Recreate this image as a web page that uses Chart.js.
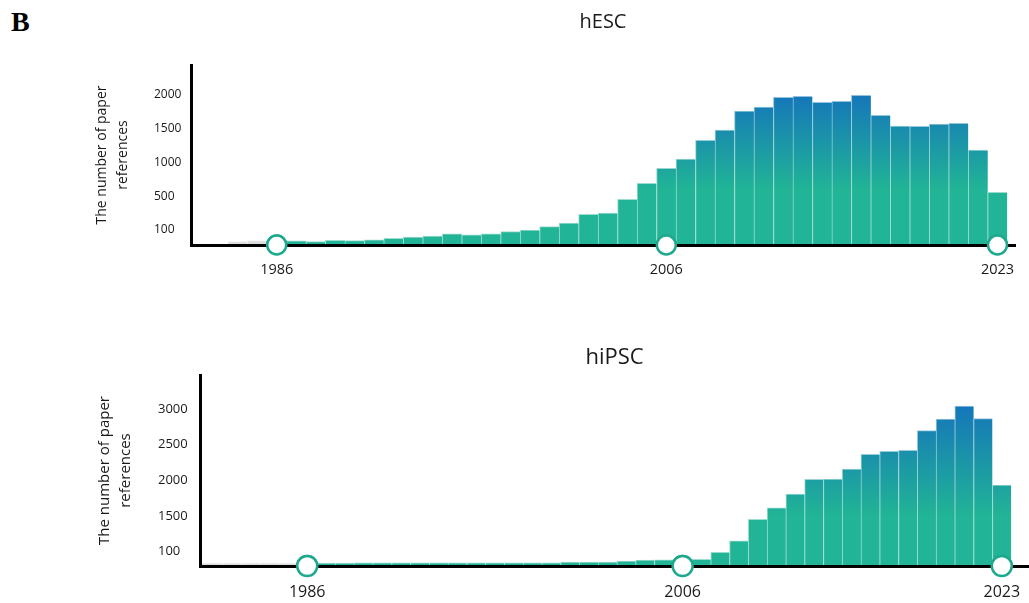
<!DOCTYPE html>
<html>
<head>
<meta charset="utf-8">
<script src="https://cdn.jsdelivr.net/npm/chart.js"></script>
<style>
  html, body { margin: 0; padding: 0; background: #ffffff; }
  #wrap { position: relative; width: 1029px; height: 603px; overflow: hidden; background: #ffffff; }
  #panel { position: absolute; left: 11px; top: 8px; font: bold 28px/28px 'Liberation Serif', 'Times New Roman', serif; color: #000; }
  #c1 { position: absolute; left: 0; top: 0; }
  #c2 { position: absolute; left: 0; top: 310px; }
</style>
</head>
<body>
<div id="wrap">
  <div id="panel">B</div>
  <canvas id="c1" width="1029" height="290"></canvas>
  <canvas id="c2" width="1029" height="293"></canvas>
</div>
<script>
// ---------------- DATA ----------------
const hescYears = [1984,1985,1986,1987,1988,1989,1990,1991,1992,1993,
                   1994,1995,1996,1997,1998,1999,2000,2001,2002,2003,
                   2004,2005,2006,2007,2008,2009,2010,2011,2012,2013,
                   2014,2015,2016,2017,2018,2019,2020,2021,2022,2023];
const hescCounts = [22,29,25,27,22,31,29,35,45,53,
                    60,75,67,75,89,100,139,183,286,301,
                    463,691,913,1050,1327,1479,1760,1820,1963,1978,
                    1889,1904,1993,1697,1538,1534,1568,1578,1183,558];

const hipscYears = [1980,1981,1982,1983,1984,1985,1986,1987,1988,1989,
                    1990,1991,1992,1993,1994,1995,1996,1997,1998,1999,
                    2000,2001,2002,2003,2004,2005,2006,2007,2008,2009,
                    2010,2011,2012,2013,2014,2015,2016,2017,2018,2019,
                    2020,2021,2022,2023];
const hipscCounts = [20,20,20,20,20,20,20,20,20,22,
                     22,22,23,23,23,23,23,23,23,23,
                     28,28,28,35,42,44,45,47,96,531,
                     1371,1616,1808,2014,2018,2158,2364,2406,2420,2695,
                     2859,3041,2863,1934];

const markerYears = [1986, 2006, 2023];
const hescTickLabels = ['100', '500', '1000', '1500', '2000'];
const hipscTickLabels = ['100', '1500', '2000', '2500', '3000'];
const yAxisTitle = ['The number of paper', 'references'];
const chartTitles = ['hESC', 'hiPSC'];

// ---------------- STYLE ----------------
const BLUE = '#1576b9', TEAL = '#21b496', GRAY = '#dcdcdc';
const BLUE_L = '#92c1e0', TEAL_L = '#9adccd', GRAY_L = '#eeeeee';
const RING = '#1ea98f';
const TEXT = '#1a1a1a';

// ------------- custom segmented value scale -------------
class SegmentScale extends Chart.LinearScale {
  determineDataLimits() { this.min = 0; this.max = this.options.max; }
  buildTicks() { return this.options.segTicks.map(v => ({ value: v })); }
  _units(v) {
    const t = this.options.segTicks, z = this.options.segZero, k = t.length;
    if (v <= t[0]) return (v / t[0]) * z;
    for (let i = 1; i < k; i++) {
      if (v <= t[i]) return z + (i - 1) + (v - t[i - 1]) / (t[i] - t[i - 1]);
    }
    return z + (k - 1) + (v - t[k - 1]) / (t[k - 1] - t[k - 2]);
  }
  _valueOf(u) {
    const t = this.options.segTicks, z = this.options.segZero, k = t.length;
    if (u <= z) return (u / z) * t[0];
    const j = u - z;
    const i = Math.floor(j);
    if (i < k - 1) return t[i] + (j - i) * (t[i + 1] - t[i]);
    return t[k - 1] + (j - (k - 1)) * (t[k - 1] - t[k - 2]);
  }
  getPixelForValue(v) {
    if (v === null || v === undefined || isNaN(v)) return NaN;
    return this.getPixelForDecimal(this._units(v) / this._units(this.max));
  }
  getValueForPixel(p) {
    return this._valueOf(this.getDecimalForPixel(p) * this._units(this.max));
  }
}
SegmentScale.id = 'segment';
Chart.register(SegmentScale);

Chart.defaults.font.family = "'Open Sans', 'Noto Sans', sans-serif";
Chart.defaults.color = TEXT;
Chart.defaults.animation = false;

const markersOnTop = {
  id: 'markersOnTop',
  afterDraw(chart) {
    const meta = chart.getDatasetMeta(1);
    if (meta && meta.controller) meta.controller.draw();
  }
};

function gradientFill(light, blueAt, tealAt) {
  return (ctx) => {
    const chart = ctx.chart;
    const raw = ctx.raw;
    if (raw && raw.x < markerYears[0]) return light ? GRAY_L : GRAY;
    const ys = chart.scales && chart.scales.y;
    if (!chart.chartArea || !ys) return light ? TEAL_L : TEAL;
    const g = chart.ctx.createLinearGradient(0, ys.getPixelForValue(blueAt), 0, ys.getPixelForValue(tealAt));
    g.addColorStop(0, light ? BLUE_L : BLUE);
    g.addColorStop(1, light ? TEAL_L : TEAL);
    return g;
  };
}

function makeChart(id, years, counts, tickLabels, title, c) {
  const bars = years.map((x, i) => ({ x, y: counts[i] }));
  const markers = markerYears.map(x => ({ x, y: 0 }));
  return new Chart(document.getElementById(id), {
    type: 'bar',
    data: {
      datasets: [
        {
          data: bars,
          order: 1,
          clip: 0,
          barPercentage: 1,
          categoryPercentage: 1,
          backgroundColor: gradientFill(false, c.blueAt, c.tealAt),
          borderColor: gradientFill(true, c.blueAt, c.tealAt),
          borderWidth: { top: 1, left: 1, right: 0, bottom: 0 },
          borderSkipped: 'start'
        },
        {
          type: 'line',
          data: markers,
          order: 0,
          showLine: false,
          pointRadius: c.ringR,
          pointHoverRadius: c.ringR,
          pointBorderWidth: 2.5,
          pointBackgroundColor: '#ffffff',
          pointBorderColor: RING
        }
      ]
    },
    options: {
      responsive: false,
      devicePixelRatio: 1,
      events: [],
      layout: { autoPadding: false, padding: { left: c.padL, right: c.padR, top: 0, bottom: 0 } },
      plugins: {
        legend: { display: false },
        tooltip: { enabled: false },
        title: {
          display: true, text: title, fullSize: false, align: 'center', color: TEXT,
          font: { size: c.titleSize, weight: 'normal', lineHeight: 1.2 },
          padding: { top: c.titleTop, bottom: c.titleBottom }
        }
      },
      scales: {
        x: {
          type: 'linear', position: 'bottom', min: c.xMin, max: c.xMax, offset: false,
          grid: { display: true, drawOnChartArea: false, drawTicks: true, tickLength: c.tickLen, color: 'rgba(0,0,0,0)' },
          border: { display: true, width: 3, color: '#000', z: 1 },
          ticks: { padding: 0, autoSkip: false, maxRotation: 0, minRotation: 0, color: TEXT,
                   font: { size: c.xFont, lineHeight: 1.2 }, callback: v => String(v) },
          afterBuildTicks: s => { s.ticks = markerYears.map(v => ({ value: v })); },
          afterFit: s => { s.height = c.xH; }
        },
        y: {
          type: 'segment', position: 'left', weight: 0, min: 0, max: c.yMax,
          segTicks: tickLabels.map(Number), segZero: c.zeroShare,
          grid: { display: false, drawTicks: false },
          border: { display: true, width: 3, color: '#000', z: 1 },
          ticks: { crossAlign: 'far', padding: 0, color: TEXT, font: { size: c.yFont, lineHeight: 1.2 },
                   callback: (v, i) => tickLabels[i] },
          afterFit: s => { s.width = c.yW; }
        },
        yt: {
          type: 'linear', position: 'left', weight: 1, display: true,
          grid: { display: false, drawTicks: false },
          border: { display: false },
          ticks: { display: false },
          title: { display: true, text: yAxisTitle, color: TEXT, padding: 0,
                   font: { size: c.ytFont, lineHeight: c.ytLH } },
          afterFit: s => { s.width = c.ytW; }
        }
      }
    },
    plugins: [markersOnTop]
  });
}

function draw() {
  makeChart('c1', hescYears, hescCounts, hescTickLabels, chartTitles[0], {
    padL: 92, padR: 14, titleSize: 20, titleTop: 10, titleBottom: 31,
    xMin: 1981.6, xMax: 2023.9, tickLen: 16, xFont: 14.5, xH: 45,
    yMax: 2441, zeroShare: 0.444, yFont: 12, yW: 37,
    ytFont: 14, ytLH: 1.5, ytW: 62, ringR: 9.5,
    blueAt: 2000, tealAt: 600
  });
  makeChart('c2', hipscYears, hipscCounts, hipscTickLabels, chartTitles[1], {
    padL: 95, padR: 0, titleSize: 22, titleTop: 35, titleBottom: 3.6,
    xMin: 1980.29, xMax: 2024.45, tickLen: 17, xFont: 16, xH: 37,
    yMax: 3475, zeroShare: 0.40, yFont: 13, yW: 42,
    ytFont: 15, ytLH: 1.35, ytW: 63, ringR: 10,
    blueAt: 3040, tealAt: 1500
  });
}

if (document.fonts && document.fonts.load) {
  Promise.all([
    document.fonts.load("12px 'Open Sans'"),
    document.fonts.load("bold 28px 'Liberation Serif'")
  ]).then(draw, draw);
} else {
  draw();
}
</script>
</body>
</html>
